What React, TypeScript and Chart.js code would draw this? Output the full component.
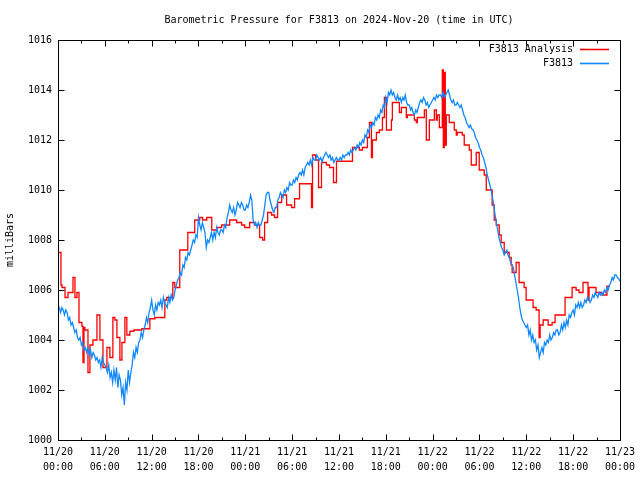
import React, { useEffect, useRef } from 'react';
import { Chart, registerables } from 'chart.js';

Chart.register(...registerables);

const FONT_FAMILY = '"DejaVu Sans Mono", "Liberation Mono", monospace';
const TITLE = 'Barometric Pressure for F3813 on 2024-Nov-20 (time in UTC)';
const Y_LABEL = 'milliBars';
const seriesNames = ['F3813 Analysis', 'F3813'];
const seriesColors = ['#ff0000', 'rgb(16,136,255)'];

const xTickHours = [0, 6, 12, 18, 24, 30, 36, 42, 48, 54, 60, 66, 72];
const xMinorTickHours = [3, 9, 15, 21, 27, 33, 39, 45, 51, 57, 63, 69];
const xTickDates = ['11/20', '11/20', '11/20', '11/20', '11/21', '11/21', '11/21', '11/21', '11/22', '11/22', '11/22', '11/22', '11/23'];
const xTickTimes = ['00:00', '06:00', '12:00', '18:00', '00:00', '06:00', '12:00', '18:00', '00:00', '06:00', '12:00', '18:00', '00:00'];
const yTicks = [1000, 1002, 1004, 1006, 1008, 1010, 1012, 1014, 1016];

// F3813 observations, one value every 10 minutes starting 11/20 00:00 (one row per hour)
const blueStepHours = 1 / 6;
const blueValues = [
  1005.4, 1005.3, 1005.1, 1005.3, 1005.2, 1005.0,
  1005.2, 1005.1, 1004.8, 1004.9, 1004.6, 1004.7,
  1004.5, 1004.3, 1004.4, 1004.1, 1004.0, 1004.1,
  1003.8, 1003.9, 1003.6, 1003.7, 1003.5, 1003.7,
  1003.4, 1003.6, 1003.3, 1003.5, 1003.4, 1003.2,
  1003.3, 1003.1, 1003.2, 1002.9, 1003.3, 1003.1,
  1003.0, 1002.9, 1002.7, 1003.0, 1002.5, 1002.7,
  1002.3, 1002.8, 1002.4, 1002.9, 1002.1, 1002.6,
  1002.4, 1001.8, 1002.1, 1001.4, 1002.3, 1002.0,
  1002.8, 1002.3, 1002.7, 1003.0, 1003.5, 1003.3,
  1003.7, 1003.5, 1003.9, 1004.0, 1004.3, 1004.1,
  1004.4, 1004.6, 1004.9, 1004.7, 1005.1, 1005.3,
  1005.6, 1005.2, 1005.0, 1005.4, 1005.2, 1005.5,
  1005.4, 1005.6, 1005.3, 1005.7, 1005.5, 1005.4,
  1005.3, 1005.7, 1005.5, 1005.8, 1005.6, 1005.7,
  1006.0, 1006.2, 1006.4, 1006.5, 1006.7, 1006.6,
  1007.0, 1006.9, 1007.3, 1007.2, 1007.5, 1007.4,
  1007.6, 1007.8, 1008.0, 1007.9, 1008.2, 1008.1,
  1008.9, 1008.6, 1008.4, 1008.7, 1008.5, 1008.3,
  1007.7, 1008.0, 1007.9, 1008.1, 1008.3, 1008.0,
  1008.3, 1008.1, 1008.5, 1008.3, 1008.2, 1008.4,
  1008.4, 1008.3, 1008.6, 1008.5, 1008.9, 1009.1,
  1009.4, 1009.2, 1009.1, 1009.3, 1009.0, 1009.2,
  1009.5, 1009.4, 1009.3, 1009.5, 1009.4, 1009.2,
  1009.2, 1009.4, 1009.3, 1009.5, 1009.8, 1009.6,
  1008.8, 1008.6, 1008.7, 1008.5, 1008.7, 1008.6,
  1008.6, 1008.8, 1009.0, 1009.4, 1009.8, 1009.9,
  1009.9, 1009.6, 1009.4, 1009.2, 1009.1, 1009.3,
  1009.3, 1009.6, 1009.7, 1009.9, 1009.8, 1009.7,
  1010.0, 1009.9, 1010.1, 1010.0, 1010.3, 1010.2,
  1010.2, 1010.4, 1010.3, 1010.5, 1010.4, 1010.6,
  1010.7, 1010.6, 1010.8, 1010.6, 1010.9, 1011.0,
  1011.1, 1011.0, 1011.2, 1011.0, 1011.3, 1011.2,
  1011.2, 1011.4, 1011.3, 1011.2, 1011.3, 1011.1,
  1011.3, 1011.4, 1011.5, 1011.4, 1011.3, 1011.4,
  1011.2, 1011.3, 1011.1, 1011.2, 1011.3, 1011.2,
  1011.2, 1011.3, 1011.2, 1011.4, 1011.3, 1011.4,
  1011.4, 1011.5, 1011.4, 1011.6, 1011.5, 1011.6,
  1011.7, 1011.6, 1011.8, 1011.7, 1011.9, 1011.8,
  1012.0, 1011.9, 1012.2, 1012.1, 1012.4, 1012.3,
  1012.6, 1012.5, 1012.7, 1012.6, 1012.9, 1012.8,
  1013.0, 1012.9, 1013.2, 1013.1, 1013.4, 1013.3,
  1013.7, 1013.5, 1013.9, 1013.8, 1014.0, 1013.8,
  1013.9, 1013.7, 1013.6, 1013.8, 1013.6, 1013.7,
  1013.5, 1013.7, 1013.6, 1013.8, 1013.5, 1013.4,
  1013.4, 1013.2, 1013.3, 1013.1, 1013.0, 1013.2,
  1013.1, 1013.3, 1013.5, 1013.6, 1013.5, 1013.7,
  1013.6, 1013.4, 1013.5, 1013.3, 1013.4, 1013.5,
  1013.6, 1013.7, 1013.6, 1013.8, 1013.7, 1013.8,
  1013.8, 1013.7, 1013.9, 1013.7, 1013.8, 1013.9,
  1014.0, 1013.8, 1013.6, 1013.5, 1013.6, 1013.4,
  1013.4, 1013.5, 1013.4, 1013.3, 1013.4, 1013.2,
  1013.0, 1012.9, 1012.7, 1012.6, 1012.5, 1012.6,
  1012.45, 1012.4, 1012.3, 1012.1, 1012.0, 1011.9,
  1011.7, 1011.6, 1011.4, 1011.3, 1011.1, 1010.9,
  1010.6, 1010.4, 1010.2, 1010.0, 1009.7, 1009.4,
  1009.0, 1008.7, 1008.4, 1008.1, 1007.9, 1007.7,
  1007.6, 1007.4, 1007.5, 1007.6, 1007.4, 1007.3,
  1007.1, 1007.0, 1006.9, 1006.6, 1006.3, 1006.0,
  1005.7, 1005.3, 1005.0, 1004.8, 1004.7, 1004.6,
  1004.5, 1004.6, 1004.2, 1004.4, 1004.0, 1004.2,
  1003.9, 1004.0, 1003.6, 1003.8, 1003.3, 1003.5,
  1003.7, 1003.5, 1003.9, 1003.8, 1004.0, 1003.9,
  1004.2, 1004.0, 1004.1, 1004.3, 1004.2, 1004.4,
  1004.4, 1004.2, 1004.3, 1004.6, 1004.4, 1004.7,
  1004.5, 1004.8, 1004.6, 1005.0, 1004.9, 1005.1,
  1005.2, 1005.0, 1005.4, 1005.3, 1005.5, 1005.3,
  1005.5, 1005.3, 1005.4, 1005.6, 1005.5, 1005.7,
  1005.7, 1005.5, 1005.6, 1005.8, 1005.7, 1005.9,
  1005.8, 1005.7, 1005.9, 1005.8, 1005.9, 1005.8,
  1006.0, 1005.9, 1006.1, 1006.0, 1006.2, 1006.3,
  1006.5, 1006.4, 1006.6, 1006.6, 1006.5, 1006.45,
  1006.35,
];

// F3813 Analysis: hours since 11/20 00:00 at which each value starts (held until the next)
const redHours = [
  0, 0.38, 0.51, 0.9, 1.28, 1.92, 2.17, 2.43, 2.69, 3.07,
  3.2, 3.33, 3.45, 3.84, 4.09, 4.48, 4.99, 5.37, 5.76, 6.27,
  6.65, 7.03, 7.29, 7.55, 7.93, 8.19, 8.57, 8.82, 9.21, 9.72,
  10.74, 11.77, 12.41, 13.69, 13.94, 14.71, 14.96, 15.6, 16.63, 17.52,
  18.16, 18.54, 19.06, 19.7, 20.33, 20.97, 22.0, 22.89, 23.53, 23.92,
  24.56, 25.19, 25.83, 26.22, 26.47, 26.86, 27.37, 27.75, 28.14, 28.65,
  29.29, 29.93, 30.31, 30.95, 32.48, 32.61, 33.0, 33.38, 33.76, 34.4,
  34.79, 35.3, 35.68, 37.73, 38.62, 39.01, 39.65, 39.9, 40.16, 40.29,
  40.8, 41.18, 41.57, 41.82, 42.08, 42.72, 42.84, 43.74, 44.0, 44.63,
  44.76, 45.66, 45.91, 46.04, 46.94, 47.19, 47.58, 48.22, 48.47, 48.6,
  48.86, 49.24, 49.37, 49.49, 49.62, 49.75, 50.13, 50.77, 51.03, 51.16,
  51.8, 52.05, 52.69, 52.95, 53.59, 53.97, 54.61, 54.87, 55.63, 55.89,
  56.15, 56.53, 56.78, 57.17, 57.81, 58.06, 58.19, 58.7, 59.08, 59.72,
  59.98, 60.87, 61.26, 61.64, 61.77, 62.16, 62.8, 63.31, 63.69, 64.97,
  65.87, 66.38, 66.76, 67.27, 67.91, 68.04, 68.93, 69.7, 70.34, 70.72,
];
const redValues = [
  1007.5, 1006.2, 1006.1, 1005.7, 1005.9, 1006.5, 1005.7, 1005.9, 1004.7, 1004.55,
  1003.1, 1004.5, 1004.4, 1002.7, 1003.8, 1004.0, 1005.0, 1004.0, 1002.9, 1003.7,
  1003.3, 1004.9, 1004.8, 1004.1, 1003.2, 1003.9, 1004.9, 1004.2, 1004.35, 1004.4,
  1004.45, 1004.85, 1004.9, 1005.6, 1005.7, 1006.3, 1006.1, 1007.6, 1008.3, 1008.8,
  1008.9, 1008.8, 1008.9, 1008.4, 1008.5, 1008.6, 1008.8, 1008.7, 1008.6, 1008.5,
  1008.7, 1008.6, 1008.1, 1008.0, 1008.7, 1009.1, 1009.0, 1008.9, 1009.5, 1009.8,
  1009.4, 1009.3, 1009.65, 1010.25, 1009.3, 1011.4, 1011.2, 1010.1, 1011.1, 1011.0,
  1010.9, 1010.3, 1011.15, 1011.7, 1011.6, 1011.7, 1012.1, 1012.7, 1011.3, 1012.0,
  1012.3, 1012.4, 1012.9, 1013.7, 1012.4, 1012.8, 1013.5, 1013.1, 1013.3, 1012.9,
  1013.0, 1012.8, 1012.7, 1012.9, 1013.2, 1012.0, 1012.8, 1013.2, 1012.8, 1013.0,
  1012.5, 1014.8, 1011.7, 1014.7, 1011.8, 1013.0, 1012.7, 1012.4, 1012.2, 1012.3,
  1012.2, 1011.8, 1011.6, 1011.0, 1011.5, 1010.8, 1010.6, 1010.0, 1009.4, 1008.8,
  1008.6, 1008.2, 1007.9, 1007.5, 1007.3, 1007.0, 1006.7, 1007.1, 1006.3, 1006.1,
  1005.6, 1005.3, 1005.2, 1004.1, 1004.6, 1004.8, 1004.6, 1004.7, 1005.0, 1005.7,
  1006.1, 1006.0, 1005.9, 1006.3, 1005.6, 1006.1, 1005.9, 1005.8, 1006.15, 1006.15,
];

const gnuplotFrame = {
  id: 'gnuplotFrame',
  afterDraw(chart: any) {
    const { ctx, chartArea: a, scales } = chart;
    const xs = scales.x;
    const ys = scales.y;
    const L = Math.round(a.left) + 0.5;
    const R = Math.round(a.right) + 0.5;
    const T = Math.round(a.top) + 0.5;
    const B = Math.round(a.bottom) + 0.5;
    ctx.save();
    ctx.strokeStyle = '#000';
    ctx.lineWidth = 1;
    ctx.beginPath();
    ctx.rect(L, T, R - L, B - T);
    const vTick = (h: number, len: number) => {
      const px = Math.round(xs.getPixelForValue(h)) + 0.5;
      ctx.moveTo(px, B);
      ctx.lineTo(px, B - len);
      ctx.moveTo(px, T);
      ctx.lineTo(px, T + len);
    };
    xTickHours.forEach((h) => vTick(h, 6));
    xMinorTickHours.forEach((h) => vTick(h, 3));
    yTicks.forEach((v) => {
      const py = Math.round(ys.getPixelForValue(v)) + 0.5;
      ctx.moveTo(L, py);
      ctx.lineTo(L + 6, py);
      ctx.moveTo(R, py);
      ctx.lineTo(R - 6, py);
    });
    ctx.stroke();

    // key (top right, inside the plot)
    ctx.font = '10px ' + FONT_FAMILY;
    ctx.textAlign = 'right';
    ctx.textBaseline = 'middle';
    seriesNames.forEach((name, i) => {
      const ty = Math.round(a.top) + 9 + i * 14;
      ctx.fillStyle = '#000';
      ctx.fillText(name, Math.round(a.right) - 47, ty);
      ctx.save();
      ctx.strokeStyle = seriesColors[i];
      ctx.lineWidth = 1.6;
      ctx.beginPath();
      ctx.moveTo(Math.round(a.right) - 40, ty + 0.5);
      ctx.lineTo(Math.round(a.right) - 11, ty + 0.5);
      ctx.stroke();
      ctx.restore();
    });
    ctx.restore();
  },
};

export default function App() {
  const ref = useRef<HTMLCanvasElement>(null);
  useEffect(() => {
    document.body.style.margin = '0';
    const canvas = ref.current;
    if (!canvas) return;
    const tickFont = { family: FONT_FAMILY, size: 10, weight: 'normal' as const, lineHeight: 1.5 };
    const chart = new Chart(canvas, {
      type: 'line',
      data: {
        datasets: [
          {
            label: seriesNames[0],
            data: redHours.map((h, i) => ({ x: h, y: redValues[i] })),
            borderColor: seriesColors[0],
            backgroundColor: seriesColors[0],
            borderWidth: 1.3,
            pointRadius: 0,
            stepped: 'before',
            order: 1,
          },
          {
            label: seriesNames[1],
            data: blueValues.map((v, i) => ({ x: i * blueStepHours, y: v })),
            borderColor: seriesColors[1],
            backgroundColor: seriesColors[1],
            borderWidth: 1.3,
            pointRadius: 0,
            tension: 0,
            order: 0,
          },
        ],
      },
      options: {
        responsive: false,
        animation: false,
        events: [],
        layout: { padding: { left: 0, top: 0, right: 19, bottom: 0 } },
        scales: {
          x: {
            type: 'linear',
            min: 0,
            max: 72,
            grid: { display: false, drawTicks: false },
            border: { display: false },
            afterBuildTicks: (s: any) => {
              s.ticks = xTickHours.map((v) => ({ value: v }));
            },
            afterFit: (s: any) => {
              s.height = 40;
            },
            ticks: {
              autoSkip: false,
              maxRotation: 0,
              minRotation: 0,
              padding: 5,
              color: '#000',
              font: tickFont,
              callback: (v: any) => {
                const i = xTickHours.indexOf(Number(v));
                return i >= 0 ? [xTickDates[i], xTickTimes[i]] : '';
              },
            },
          },
          y: {
            type: 'linear',
            min: 1000,
            max: 1016,
            grid: { display: false, drawTicks: false },
            border: { display: false },
            afterBuildTicks: (s: any) => {
              s.ticks = yTicks.map((v) => ({ value: v }));
            },
            afterFit: (s: any) => {
              s.width = 58;
            },
            ticks: {
              padding: 6,
              color: '#000',
              font: { family: FONT_FAMILY, size: 10, weight: 'normal' as const },
              callback: (v: any) => String(v),
            },
            title: {
              display: true,
              text: Y_LABEL,
              color: '#000',
              font: { family: FONT_FAMILY, size: 10, weight: 'normal' as const, lineHeight: 1.2 },
              padding: { top: 4, bottom: 0 },
            },
          },
        },
        plugins: {
          legend: { display: false },
          tooltip: { enabled: false },
          title: {
            display: true,
            text: TITLE,
            color: '#000',
            fullSize: false,
            font: { family: FONT_FAMILY, size: 10, weight: 'normal' as const, lineHeight: 1.2 },
            padding: { top: 14, bottom: 14 },
          },
        },
      },
      plugins: [gnuplotFrame],
    } as any);
    return () => chart.destroy();
  }, []);
  return <canvas ref={ref} width={640} height={480} style={{ display: 'block' }} />;
}
